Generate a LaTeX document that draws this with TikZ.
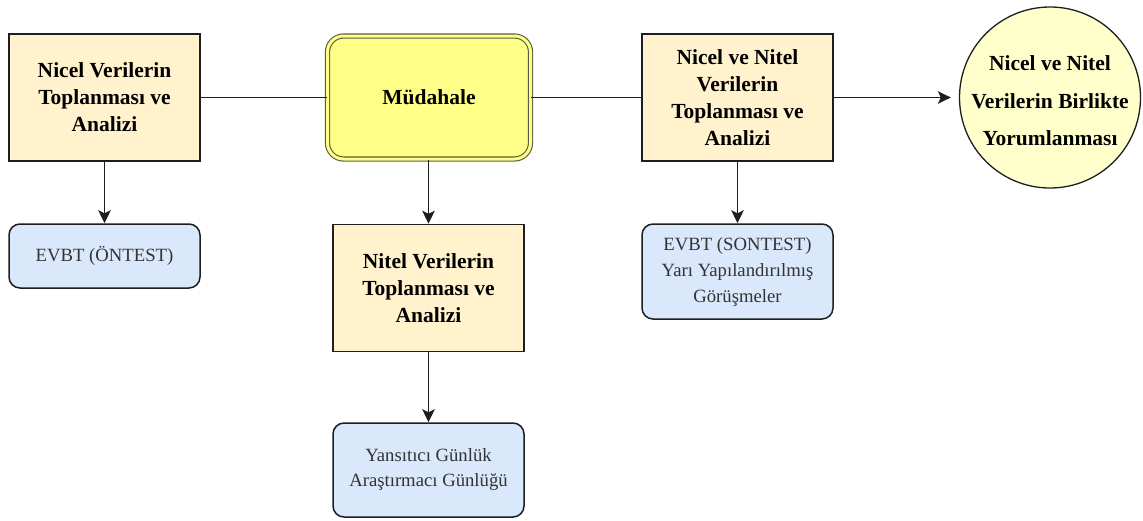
\documentclass[tikz,border=0pt]{standalone}
\usepackage{fontspec}
\newfontfamily\diagfont{Liberation Serif}
\usetikzlibrary{arrows.meta}
\definecolor{stagefill}{HTML}{FFF2CC}
\definecolor{notefill}{HTML}{FFFF88}
\definecolor{notedraw}{HTML}{5A5A40}
\definecolor{toolfill}{HTML}{DAE8FC}
\definecolor{endfill}{HTML}{FFFFCC}
\definecolor{edge}{HTML}{1E1E1E}
\definecolor{softtext}{HTML}{333333}
\tikzset{
  bigtext/.style={font=\diagfont\fontsize{21.5}{27}\selectfont\bfseries, text=black},
  smalltext/.style={font=\diagfont\fontsize{18.7}{26}\selectfont, text=softtext},
  stagebox/.style={draw=edge, line width=1.5pt, fill=stagefill, inner sep=0pt,
    minimum width=191pt, minimum height=127pt, align=center, bigtext},
  toolbox/.style={draw=edge, line width=1.5pt, fill=toolfill, rounded corners=11pt,
    inner sep=0pt, minimum width=191pt, align=center, smalltext},
  actionbox/.style={draw=notedraw, line width=1.1pt, double=notefill, double distance=3pt,
    fill=notefill, rounded corners=16pt, inner sep=0pt, minimum width=203pt,
    minimum height=123pt, align=center, bigtext},
  endcircle/.style={draw=edge, line width=1.3pt, fill=endfill, circle, inner sep=0pt,
    minimum size=181pt},
  endtext/.style={align=center, inner sep=0pt, font=\diagfont\fontsize{21.5}{37.5}\selectfont\bfseries},
  link/.style={draw=edge, line width=1.7pt},
  arrowlink/.style={link, -{Stealth[length=13pt, width=12.5pt, inset=3pt]}},
}
\begin{document}
\begin{tikzpicture}[x=1pt, y=-1pt]
  \useasboundingbox (0,0) rectangle (1143,520);

  % main row
  \node[stagebox] (nicel) at (104.5,97.5) {Nicel Verilerin\\Toplanması ve\\Analizi};
  \node[actionbox] (mudahale) at (429,97.5) {Müdahale};
  \node[stagebox] (karma) at (737.5,97.5) {Nicel ve Nitel\\Verilerin\\Toplanması ve\\Analizi};
  \node[endcircle] (yorum) at (1050,97.5) {};
  \node[endtext] (yorumtext) at ([yshift=-3.5pt]yorum.center)
    {Nicel ve Nitel\\Verilerin Birlikte\\Yorumlanması};

  % second row
  \node[toolbox, minimum height=64pt] (ontest) at (104.5,256) {EVBT (ÖNTEST)};
  \node[stagebox] (nitel) at (428.5,288) {Nitel Verilerin\\Toplanması ve\\Analizi};
  \node[toolbox, minimum height=95pt] (sontest) at (737.5,271.5)
    {EVBT (SONTEST)\\Yarı Yapılandırılmış\\Görüşmeler};

  % bottom
  \node[toolbox, minimum height=94pt, font=\diagfont\fontsize{18.7}{25}\selectfont] (gunluk) at (428.5,470)
    {Yansıtıcı Günlük\\Araştırmacı Günlüğü};

  % connectors
  \draw[link] (nicel) -- (mudahale);
  \draw[link] (mudahale) -- (karma);
  \draw[arrowlink, shorten >=8pt] (karma) -- (yorum);
  \draw[arrowlink] (nicel) -- (ontest);
  \draw[arrowlink] (mudahale.south -| nitel.north) -- (nitel);
  \draw[arrowlink] (nitel) -- (gunluk);
  \draw[arrowlink] (karma) -- (sontest);
\end{tikzpicture}
\end{document}
